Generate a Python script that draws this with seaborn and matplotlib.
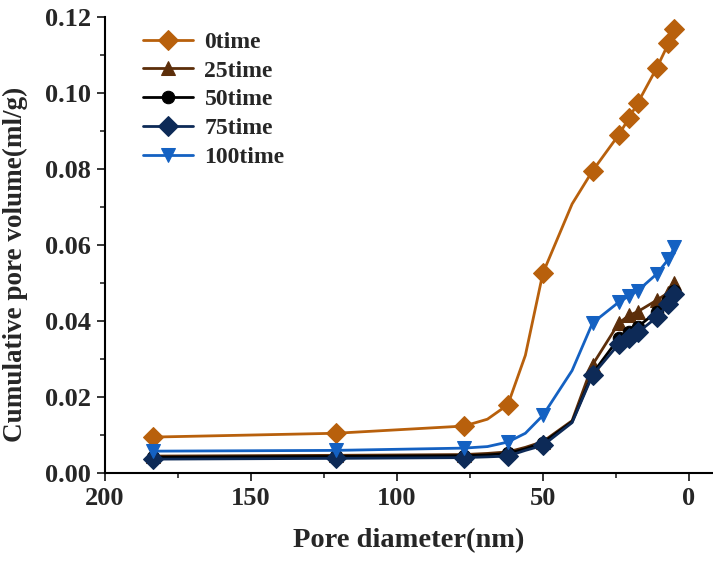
import numpy as np
import pandas as pd
import matplotlib
matplotlib.use("Agg")
import matplotlib.pyplot as plt
import seaborn as sns
from matplotlib.ticker import MultipleLocator

# Pore diameter (nm); some points are unmarked curve points
pore_nm = [183.5, 121, 77, 69, 62, 56, 50, 40, 33, 24, 20.5, 17.5, 11, 7, 5]
marked_idx = [0, 1, 2, 4, 6, 8, 9, 10, 11, 12, 13, 14]

v_0 = [0.0095, 0.0105, 0.0124, 0.0142, 0.0180, 0.0310, 0.0526, 0.0708, 0.0795,
       0.0890, 0.0934, 0.0974, 0.1066, 0.1130, 0.1168]
v_25 = [0.0045, 0.0047, 0.0049, 0.0052, 0.0056, 0.0068, 0.0083, 0.0138, 0.0285,
        0.0395, 0.0415, 0.0425, 0.0455, 0.0475, 0.0500]
v_50 = [0.0042, 0.0044, 0.0046, 0.0048, 0.0052, 0.0064, 0.0080, 0.0135, 0.0262,
        0.0355, 0.0370, 0.0385, 0.0425, 0.0455, 0.0480]
v_75 = [0.0037, 0.0039, 0.0041, 0.0043, 0.0045, 0.0060, 0.0073, 0.0133, 0.0258,
        0.0340, 0.0355, 0.0370, 0.0410, 0.0445, 0.0470]
v_100 = [0.0058, 0.0060, 0.0066, 0.0070, 0.0082, 0.0105, 0.0152, 0.0270, 0.0395,
         0.0450, 0.0466, 0.0480, 0.0524, 0.0563, 0.0594]

labels = ["0time", "25time", "50time", "75time", "100time"]
series = [v_0, v_25, v_50, v_75, v_100]
colors = ["#B8600C", "#5C2E0A", "#000000", "#0D2A57", "#1461C2"]
markers = ["D", "^", "o", "D", "v"]

sns.set_theme(style="ticks")
plt.rcParams['font.family'] = ['Liberation Serif', 'DejaVu Serif']
plt.rcParams['font.weight'] = 'bold'

fig = plt.figure(figsize=(7.13, 5.62), dpi=100)
ax = fig.add_axes([0.147, 0.158, 0.852, 0.812])

for lab, vals, c, m in zip(labels, series, colors, markers):
    df = pd.DataFrame({"x": pore_nm, "y": vals})
    sns.lineplot(data=df, x="x", y="y", ax=ax, sort=False, color=c, marker=m,
                 markersize=10 if m != "o" else 9, markeredgecolor=c, linewidth=2.0,
                 markevery=marked_idx, label=lab)

ax.set_xlim(200, -8)
ax.set_ylim(0, 0.12)
ax.xaxis.set_major_locator(MultipleLocator(50))
ax.xaxis.set_minor_locator(MultipleLocator(25))
ax.yaxis.set_major_locator(MultipleLocator(0.02))
ax.yaxis.set_minor_locator(MultipleLocator(0.01))
ax.yaxis.set_major_formatter(matplotlib.ticker.FormatStrFormatter('%.2f'))
ax.tick_params(which='major', direction='out', length=6, width=1.3, labelsize=19, pad=4)
ax.tick_params(which='minor', direction='out', length=3.5, width=1.2)
for lbl in ax.get_xticklabels() + ax.get_yticklabels():
    lbl.set_fontweight('bold')
sns.despine(ax=ax)
for s in ['left', 'bottom']:
    ax.spines[s].set_linewidth(1.5)
    ax.spines[s].set_color('black')

ax.set_xlabel("Pore diameter(nm)", fontsize=20.5, fontweight='bold', labelpad=13)
ax.set_ylabel("Cumulative pore volume(ml/g)", fontsize=19.5, fontweight='bold')
ax.yaxis.set_label_coords(-0.127, 0.458)

leg = ax.legend(loc='upper left', bbox_to_anchor=(0.028, 1.015), frameon=False,
                prop={'family': 'Liberation Serif', 'weight': 'bold', 'size': 17},
                handlelength=2.1, labelspacing=0.31, handletextpad=0.5)

fig.savefig("out.png", dpi=100)
